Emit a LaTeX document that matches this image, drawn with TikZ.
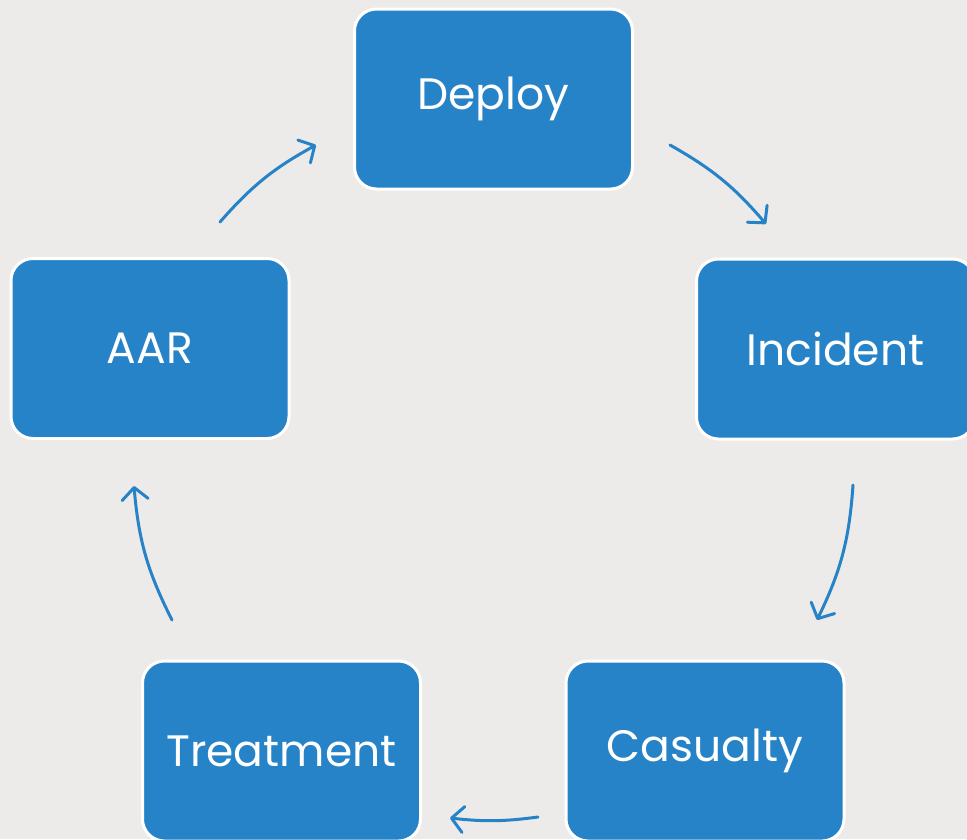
\documentclass[tikz,border=0pt]{standalone}
\usepackage{fontspec}
\setmainfont{Poppins}
\usetikzlibrary{arrows.meta}
\definecolor{bgc}{RGB}{237,235,233}
\definecolor{boxblue}{RGB}{39,131,199}
\begin{document}
\begin{tikzpicture}[x=1pt,y=-1pt,
  stagebox/.style={draw=white,line width=3pt,fill=boxblue,rounded corners=22pt,
    minimum width=278pt,minimum height=180pt,text=white,font=\fontsize{44}{52}\selectfont},
  cyc/.style={draw=boxblue,line width=3pt,line cap=round,
    -{Straight Barb[length=12pt,width=26pt,line cap=round,line join=round]}}]
\fill[bgc] (0,0) rectangle (967,839);
\useasboundingbox (0,0) rectangle (967,839);
\node[stagebox] (deploy) at (493.5,99) {Deploy};
\node[stagebox] (incident) at (835.5,349) {Incident};
\node[stagebox] (casualty) at (705,751) {Casualty};
\node[stagebox] (treatment) at (281.5,751) {Treatment};
\node[stagebox] (aar) at (150,348.5) {AAR};
\coordinate (a1s) at (670,145);  \coordinate (a1e) at (766,224);
\coordinate (a2s) at (853,485);  \coordinate (a2e) at (817,620);
\coordinate (a3s) at (538,817);  \coordinate (a3e) at (450,818);
\coordinate (a4s) at (172,620);  \coordinate (a4e) at (134,486);
\coordinate (a5s) at (220,222);  \coordinate (a5e) at (316,145);
\draw[cyc] (a1s) to[bend left=10] (a1e);
\draw[cyc] (a2s) to[bend left=11] (a2e);
\draw[cyc] (a3s) to[bend left=7] (a3e);
\draw[cyc] (a4s) to[bend left=11] (a4e);
\draw[cyc] (a5s) to[bend left=10] (a5e);
\end{tikzpicture}
\end{document}
